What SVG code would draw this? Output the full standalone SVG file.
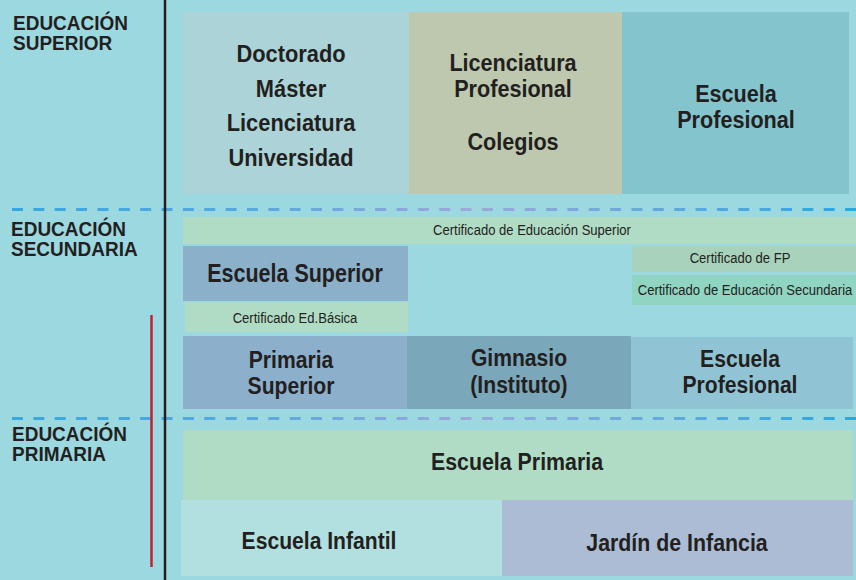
<svg xmlns="http://www.w3.org/2000/svg" width="856" height="580" viewBox="0 0 856 580">
<defs>
<linearGradient id="dashGrad" gradientUnits="userSpaceOnUse" x1="0" y1="0" x2="856" y2="0">
<stop offset="0" stop-color="#34a8e0"/>
<stop offset="0.3" stop-color="#5aa8de"/>
<stop offset="0.55" stop-color="#9ea8d8"/>
<stop offset="0.78" stop-color="#62a8dc"/>
<stop offset="1" stop-color="#28a8e0"/>
</linearGradient>
</defs>
<style>
.big{font-family:"Liberation Sans",Arial,sans-serif;font-weight:bold;font-size:24px;fill:#231f20;text-anchor:middle}
.lvl{font-family:"Liberation Sans",Arial,sans-serif;font-weight:bold;font-size:20px;fill:#231f20}
.sm{font-family:"Liberation Sans",Arial,sans-serif;font-size:14.5px;fill:#231f20;text-anchor:middle}
.dash{stroke:url(#dashGrad);stroke-width:3;stroke-dasharray:11 10.36;fill:none}
</style>
<rect x="0" y="0" width="856" height="580" fill="#9cd8e0"/>

<g id="levels">
<text class="lvl" transform="translate(13,30) scale(0.95,1)">EDUCACIÓN</text>
<text class="lvl" transform="translate(13,50) scale(0.95,1)">SUPERIOR</text>
<text class="lvl" transform="translate(11,236) scale(0.95,1)">EDUCACIÓN</text>
<text class="lvl" transform="translate(11,256) scale(0.95,1)">SECUNDARIA</text>
<text class="lvl" transform="translate(12,441) scale(0.95,1)">EDUCACIÓN</text>
<text class="lvl" transform="translate(12,461) scale(0.95,1)">PRIMARIA</text>
</g>

<g id="universidad">
<rect x="183" y="12" width="226" height="182" fill="#acd4d8"/>
<text class="big" transform="translate(291,62) scale(0.91,1)">Doctorado</text>
<text class="big" transform="translate(291,97) scale(0.91,1)">Máster</text>
<text class="big" transform="translate(291,131) scale(0.91,1)">Licenciatura</text>
<text class="big" transform="translate(291,166) scale(0.91,1)">Universidad</text>
</g>
<g id="colegios">
<rect x="409" y="12" width="213" height="182" fill="#bdc8ae"/>
<text class="big" transform="translate(513,71) scale(0.9,1)">Licenciatura</text>
<text class="big" transform="translate(513,97) scale(0.9,1)">Profesional</text>
<text class="big" transform="translate(513,150) scale(0.9,1)">Colegios</text>
</g>
<g id="escuela-profesional-sup">
<rect x="622" y="12" width="227" height="182" fill="#84c4cc"/>
<text class="big" transform="translate(736,102) scale(0.9,1)">Escuela</text>
<text class="big" transform="translate(736,128) scale(0.9,1)">Profesional</text>
</g>

<g id="cert-superior">
<rect x="183" y="217" width="673" height="27" fill="#b0dcc6"/>
<text class="sm" transform="translate(532,235) scale(0.9,1)">Certificado de Educación Superior</text>
</g>
<g id="escuela-superior">
<rect x="183" y="246" width="225" height="55" fill="#8bb0ca"/>
<text class="big" style="font-size:25px" transform="translate(295,282) scale(0.86,1)">Escuela Superior</text>
</g>
<g id="cert-basica">
<rect x="185" y="302" width="223" height="30" fill="#b0dcc6"/>
<text class="sm" transform="translate(295,323) scale(0.9,1)">Certificado Ed.Básica</text>
</g>
<g id="cert-fp">
<rect x="632" y="246" width="224" height="26" fill="#a8d2bc"/>
<text class="sm" transform="translate(740,263) scale(0.9,1)">Certificado de FP</text>
</g>
<g id="cert-secundaria">
<rect x="632" y="275" width="224" height="30" fill="#90d4c2"/>
<text class="sm" transform="translate(745,295) scale(0.9,1)">Certificado de Educación Secundaria</text>
</g>

<g id="primaria-superior">
<rect x="183" y="336" width="224" height="73" fill="#8cb0cc"/>
<text class="big" transform="translate(291,368) scale(0.88,1)">Primaria</text>
<text class="big" transform="translate(291,394) scale(0.88,1)">Superior</text>
</g>
<g id="gimnasio">
<rect x="407" y="336" width="224" height="73" fill="#7ba7bb"/>
<text class="big" transform="translate(519,366) scale(0.88,1)">Gimnasio</text>
<text class="big" transform="translate(519,393) scale(0.88,1)">(Instituto)</text>
</g>
<g id="escuela-profesional-sec">
<rect x="631" y="337" width="222" height="72" fill="#90c4d4"/>
<text class="big" transform="translate(740,367) scale(0.88,1)">Escuela</text>
<text class="big" transform="translate(740,393) scale(0.88,1)">Profesional</text>
</g>

<g id="escuela-primaria">
<rect x="183" y="430" width="670" height="70" fill="#b0dcc6"/>
<text class="big" transform="translate(517,470) scale(0.89,1)">Escuela Primaria</text>
</g>
<g id="escuela-infantil">
<rect x="181" y="500" width="321" height="76" fill="#b2dfe0"/>
<text class="big" transform="translate(319,549) scale(0.88,1)">Escuela Infantil</text>
</g>
<g id="jardin">
<rect x="502" y="500" width="351" height="76" fill="#acbcd4"/>
<text class="big" transform="translate(677,551) scale(0.89,1)">Jardín de Infancia</text>
</g>

<g id="connectors">
<line class="dash" x1="12" y1="209.5" x2="856" y2="209.5"/>
<line class="dash" x1="12" y1="418.5" x2="856" y2="418.5"/>
<line x1="165" y1="0" x2="165" y2="580" stroke="#231f20" stroke-width="2.5"/>
<line x1="151.5" y1="315" x2="151.5" y2="567" stroke="#c4202e" stroke-width="2.5"/>
</g>
</svg>
